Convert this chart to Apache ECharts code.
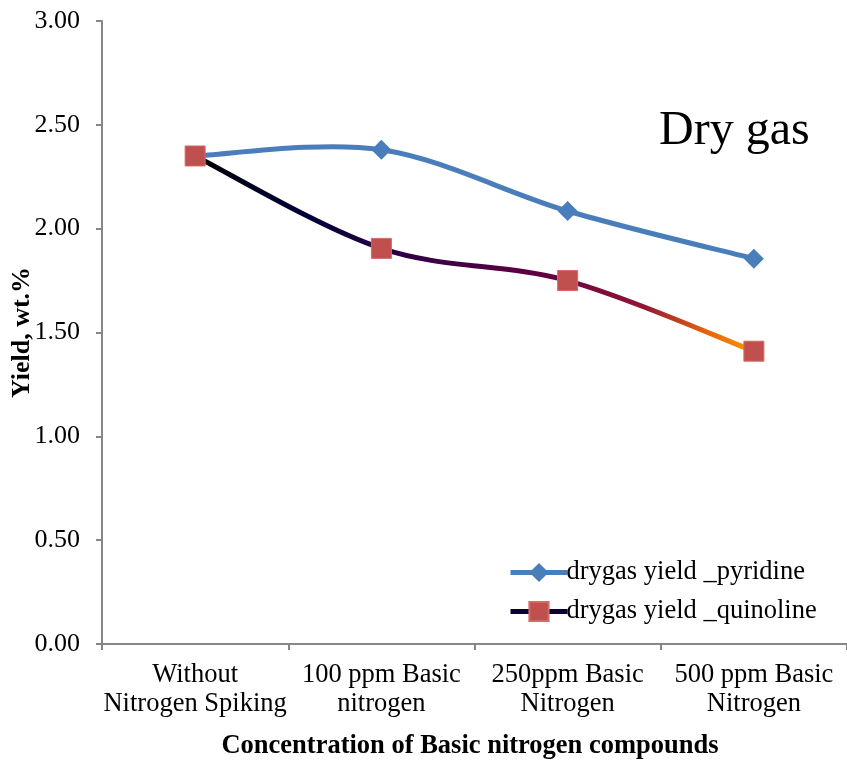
<!DOCTYPE html>
<html>
<head>
<meta charset="utf-8">
<script src="https://cdn.jsdelivr.net/npm/echarts@6/dist/echarts.min.js"></script>
<style>html,body{margin:0;padding:0;background:#fff}#c{width:847px;height:761px}</style>
</head>
<body>
<div id="c"></div>
<script>
const categories = ["Without\nNitrogen Spiking", "100 ppm Basic\nnitrogen", "250ppm Basic\nNitrogen", "500 ppm Basic\nNitrogen"];
const pyridine = [2.35, 2.38, 2.085, 1.855];
const quinoline = [2.35, 1.905, 1.75, 1.41];
const seriesNames = ["drygas yield _pyridine", "drygas yield _quinoline"];
const chartTitle = "Dry gas";
const xTitle = "Concentration of Basic nitrogen compounds";
const yTitle = "Yield, wt.%";
const yTicks = { min: 0, max: 3, interval: 0.5 };

const font = "'Liberation Serif', 'Times New Roman', serif";
const axisCol = '#868686';
const blue = '#4a7ebb';
const quinGradient = () => new echarts.graphic.LinearGradient(0, 0, 1, 0, [
  { offset: 0, color: '#000000' },
  { offset: 0.2, color: '#00003a' },
  { offset: 0.4, color: '#340044' },
  { offset: 0.62, color: '#620040' },
  { offset: 0.8, color: '#921535' },
  { offset: 0.91, color: '#e4620e' },
  { offset: 1, color: '#ff9c00' }
]);

// Excel-like smoothed curve (Catmull-Rom style Bezier) through the data points,
// positioned via the chart's own coordinate system.
function smoothRenderer(values, strokeFn) {
  return function (params, api) {
    if (params.dataIndex !== 0) return null;
    const pts = values.map((v, i) => api.coord([i, v]));
    const n = pts.length;
    const P = i => pts[Math.max(0, Math.min(n - 1, i))];
    let d = 'M' + pts[0][0] + ' ' + pts[0][1];
    for (let i = 0; i < n - 1; i++) {
      const p0 = P(i - 1), p1 = P(i), p2 = P(i + 1), p3 = P(i + 2);
      const c1x = p1[0] + (p2[0] - p0[0]) / 6, c1y = p1[1] + (p2[1] - p0[1]) / 6;
      const c2x = p2[0] - (p3[0] - p1[0]) / 6, c2y = p2[1] - (p3[1] - p1[1]) / 6;
      d += ' C' + c1x + ' ' + c1y + ' ' + c2x + ' ' + c2y + ' ' + p2[0] + ' ' + p2[1];
    }
    return {
      type: 'path',
      shape: { pathData: d },
      style: { fill: null, stroke: strokeFn(), lineWidth: 5, lineCap: 'round', lineJoin: 'round' }
    };
  };
}

const chart = echarts.init(document.getElementById('c'));
chart.setOption({
  animation: false,
  backgroundColor: '#fff',
  textStyle: { fontFamily: font },
  title: {
    text: chartTitle, left: 659, top: 107, padding: 0,
    textStyle: { fontFamily: font, fontSize: 48, fontWeight: 'normal', color: '#000' }
  },
  grid: { left: 102, right: 0, top: 21, bottom: 117, containLabel: false, outerBoundsMode: 'none' },
  legend: {
    orient: 'vertical', left: 508, top: 559, itemGap: 12, padding: 0,
    itemWidth: 57, itemHeight: 24,
    textStyle: { fontFamily: font, fontSize: 26.5, color: '#000', padding: [0, 0, 0, -6] },
    data: [
      { name: seriesNames[0], lineStyle: { color: blue, width: 5, opacity: 1 } },
      { name: seriesNames[1], lineStyle: { color: '#0a0030', width: 5, opacity: 1 } }
    ]
  },
  xAxis: {
    type: 'category', data: categories, boundaryGap: true,
    axisLine: { lineStyle: { color: axisCol, width: 2 } },
    axisTick: { show: true, length: 6, alignWithLabel: false, lineStyle: { color: axisCol, width: 2 } },
    axisLabel: { color: '#000', fontSize: 26.5, fontFamily: font, lineHeight: 29, margin: 17, interval: 0 },
    name: xTitle, nameLocation: 'middle', nameGap: 89,
    nameTextStyle: { fontFamily: font, fontSize: 26.5, fontWeight: 'bold', color: '#000', padding: [0, 9, 0, 0] }
  },
  yAxis: {
    type: 'value', min: yTicks.min, max: yTicks.max, interval: yTicks.interval,
    splitLine: { show: false },
    axisLine: { show: true, lineStyle: { color: axisCol, width: 2 } },
    axisTick: { show: true, length: 6, lineStyle: { color: axisCol, width: 2 } },
    axisLabel: { color: '#000', fontSize: 26, fontFamily: font, margin: 22, formatter: v => v.toFixed(2) },
    name: yTitle, nameLocation: 'middle', nameGap: 67, nameRotate: 90, nameMoveOverlap: false,
    nameTextStyle: { fontFamily: font, fontSize: 26, fontWeight: 'bold', color: '#000' }
  },
  series: [
    {
      name: seriesNames[0] + ' curve', type: 'custom', z: 1, silent: true, clip: false,
      data: pyridine.map((v, i) => [i, v]), encode: { x: 0, y: 1 },
      renderItem: smoothRenderer(pyridine, () => blue)
    },
    {
      name: seriesNames[1] + ' curve', type: 'custom', z: 1, silent: true, clip: false,
      data: quinoline.map((v, i) => [i, v]), encode: { x: 0, y: 1 },
      renderItem: smoothRenderer(quinoline, quinGradient)
    },
    {
      name: seriesNames[0], type: 'line', data: pyridine,
      symbol: 'diamond', symbolSize: 20, z: 3,
      lineStyle: { color: blue, width: 5, opacity: 0 },
      itemStyle: { color: blue }
    },
    {
      name: seriesNames[1], type: 'line', data: quinoline,
      symbol: 'rect', symbolSize: 20, z: 4,
      lineStyle: { color: '#0a0030', width: 5, opacity: 0 },
      itemStyle: { color: '#c0504d', borderColor: '#d46a66', borderWidth: 1 }
    }
  ]
});
</script>
</body>
</html>
